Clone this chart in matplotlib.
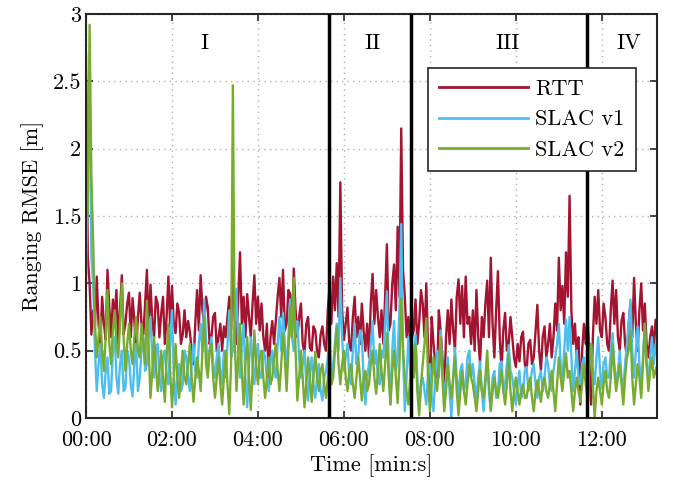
import numpy as np
import matplotlib
matplotlib.use('Agg')
import matplotlib.pyplot as plt
from matplotlib.ticker import FuncFormatter

plt.rcParams['font.family'] = 'serif'
plt.rcParams['font.serif'] = ['cmr10']
plt.rcParams['mathtext.fontset'] = 'cm'
plt.rcParams['axes.formatter.use_mathtext'] = True

# time axis [s], one sample every 2.5 s
t = np.arange(0, 800, 2.5)

rtt = [2.5, 1.2, 1.0, 0.62, 0.8, 0.68, 1.05, 0.7, 0.55, 0.9, 0.7, 0.58, 1.1, 0.82, 0.6, 0.88, 0.75, 0.95, 0.55, 0.8,
       1.06, 0.62, 0.7, 0.85, 0.93, 0.6, 0.89, 0.72, 0.5, 0.75, 0.93, 0.7, 0.62, 0.85, 1.1, 0.65, 0.99, 0.72, 0.6, 0.9,
       0.85, 0.6, 0.78, 0.9, 0.55, 0.75, 1.05, 0.68, 0.98, 0.7, 0.63, 0.85, 0.78, 0.55, 0.62, 0.8, 0.6, 0.72, 0.64, 0.5,
       0.4, 0.7, 0.95, 0.65, 1.06, 0.8, 0.7, 0.9, 0.82, 0.55, 0.6, 0.75, 0.78, 0.5, 0.6, 0.7, 0.5, 0.68, 0.6, 0.75,
       0.9, 0.65, 1.18, 0.75, 0.55, 0.9, 1.23, 0.7, 0.9, 0.6, 0.92, 0.75, 0.6, 0.85, 1.06, 0.7, 0.9, 0.65, 0.85, 0.6,
       0.5, 0.7, 0.3, 0.6, 0.72, 0.55, 0.72, 0.9, 1.04, 0.75, 1.1, 0.65, 0.7, 0.95, 0.92, 0.6, 1.11, 0.8, 0.6, 0.75,
       0.85, 0.55, 0.48, 0.7, 0.75, 0.52, 0.5, 0.68, 0.65, 0.5, 0.45, 0.62, 0.68, 0.55, 0.5, 0.8, 0.98, 0.7, 1.05, 0.8,
       1.15, 0.75, 1.75, 0.8, 0.58, 0.7, 0.82, 0.55, 0.5, 0.75, 0.9, 0.6, 0.75, 0.55, 0.85, 0.65, 0.5, 0.7, 0.45, 0.85,
       1.07, 0.7, 0.95, 0.75, 0.6, 0.8, 0.55, 0.9, 1.29, 0.65, 0.7, 1.0, 1.14, 0.8, 1.42, 0.9, 2.15, 1.1, 0.9, 0.6,
       0.75, 0.55, 0.6, 0.65, 0.88, 0.55, 0.7, 0.95, 0.85, 0.6, 1.0, 0.5, 0.12, 0.75, 0.56, 0.4, 0.3, 0.8, 0.65, 0.45,
       0.15, 0.6, 0.8, 0.55, 0.88, 0.65, 0.5, 0.9, 1.03, 0.7, 0.98, 0.6, 1.05, 0.7, 0.75, 0.55, 0.8, 0.5, 0.95, 0.6,
       0.4, 0.75, 0.6, 0.85, 1.02, 0.6, 1.19, 0.7, 0.45, 0.8, 1.09, 0.6, 0.35, 0.65, 0.78, 0.5, 0.55, 0.75, 0.6, 0.45,
       0.38, 0.55, 0.42, 0.6, 0.64, 0.4, 0.35, 0.55, 0.58, 0.4, 0.45, 0.65, 0.84, 0.5, 0.35, 0.6, 0.68, 0.45, 0.55, 0.7,
       0.45, 0.6, 0.85, 0.65, 1.19, 0.8, 0.98, 0.7, 1.23, 0.9, 1.65, 0.8, 0.55, 0.7, 0.45, 0.6, 0.1, 0.5, 0.7, 0.55,
       0.75, 0.5, 0.1, 0.6, 0.9, 0.7, 0.95, 0.65, 0.6, 0.85, 0.75, 0.55, 0.5, 0.8, 1.02, 0.7, 0.95, 0.6, 0.5, 0.72,
       0.78, 0.55, 0.45, 0.7, 0.85, 0.6, 1.04, 0.7, 0.5, 0.8, 1.0, 0.65, 0.85, 0.55, 0.45, 0.6, 0.68, 0.5, 0.73, 0.6]

slac_v1 = [1.0, 1.8, 2.57, 1.2, 1.0, 0.5, 0.2, 0.4, 0.55, 0.25, 0.15, 0.35, 0.45, 0.18, 0.2, 0.5, 0.6, 0.3, 0.18, 0.4,
           0.5, 0.2, 0.22, 0.5, 0.45, 0.25, 0.16, 0.4, 0.55, 0.2, 0.3, 0.5, 0.6, 0.35, 0.4, 0.6, 0.75, 0.45, 0.3, 0.5,
           0.55, 0.3, 0.2, 0.45, 0.5, 0.3, 0.25, 0.55, 0.8, 0.35, 0.1, 0.3, 0.4, 0.2, 0.25, 0.5, 0.45, 0.3, 0.2, 0.4,
           0.55, 0.35, 0.3, 0.55, 0.7, 0.5, 0.88, 0.6, 0.35, 0.5, 0.6, 0.4, 0.3, 0.45, 0.55, 0.35, 0.25, 0.5, 0.3, 0.55,
           0.8, 0.45, 0.5, 0.7, 0.96, 0.5, 0.3, 0.55, 0.7, 0.3, 0.08, 0.4, 0.6, 0.4, 0.25, 0.45, 0.55, 0.3, 0.3, 0.5,
           0.45, 0.3, 0.2, 0.4, 0.5, 0.35, 0.3, 0.55, 0.75, 0.5, 0.78, 0.55, 0.35, 0.6, 0.88, 0.6, 0.5, 0.65, 0.72, 0.45,
           0.3, 0.4, 0.5, 0.25, 0.13, 0.35, 0.45, 0.25, 0.15, 0.3, 0.4, 0.2, 0.13, 0.3, 0.35, 0.45, 0.58, 0.3, 0.4, 0.55,
           0.7, 0.5, 1.04, 0.6, 0.35, 0.45, 0.55, 0.3, 0.25, 0.5, 0.7, 0.4, 0.45, 0.65, 0.6, 0.3, 0.1, 0.3, 0.4, 0.55,
           0.72, 0.4, 0.5, 0.3, 0.25, 0.5, 0.45, 0.7, 0.94, 0.4, 0.1, 0.5, 0.72, 0.35, 0.45, 0.8, 1.44, 0.5, 0.05, 0.3,
           0.6, 0.35, 0.3, 0.45, 0.62, 0.3, 0.05, 0.25, 0.3, 0.2, 0.1, 0.35, 0.4, 0.15, 0.05, 0.3, 0.5, 0.3, 0.65, 0.35,
           0.1, 0.3, 0.45, 0.2, 0.0, 0.3, 0.52, 0.3, 0.15, 0.35, 0.4, 0.2, 0.25, 0.45, 0.5, 0.3, 0.4, 0.25, 0.15, 0.3,
           0.42, 0.2, 0.05, 0.25, 0.4, 0.2, 0.05, 0.3, 0.35, 0.15, 0.2, 0.4, 0.42, 0.2, 0.25, 0.4, 0.54, 0.35, 0.3, 0.2,
           0.1, 0.25, 0.35, 0.15, 0.2, 0.35, 0.38, 0.2, 0.25, 0.35, 0.4, 0.25, 0.15, 0.3, 0.35, 0.2, 0.3, 0.45, 0.4, 0.25,
           0.2, 0.35, 0.45, 0.55, 0.7, 0.4, 0.3, 0.5, 0.73, 0.5, 0.75, 0.45, 0.2, 0.35, 0.5, 0.3, 0.25, 0.4, 0.45, 0.3,
           0.2, 0.4, 0.55, 0.35, 0.25, 0.45, 0.6, 0.35, 0.22, 0.4, 0.45, 0.3, 0.3, 0.5, 0.63, 0.4, 0.25, 0.35, 0.5, 0.3,
           0.22, 0.4, 0.55, 0.7, 0.88, 0.5, 0.3, 0.5, 0.68, 0.4, 0.25, 0.45, 0.7, 0.4, 0.3, 0.45, 0.6, 0.4, 0.55, 0.45]

slac_v2 = [2.71, 1.5, 2.92, 1.8, 1.3, 0.7, 0.45, 0.6, 0.75, 0.5, 0.35, 0.6, 0.95, 0.55, 0.4, 0.65, 0.8, 0.55, 0.45, 0.7,
           1.0, 0.6, 0.35, 0.55, 0.7, 0.5, 0.4, 0.6, 0.75, 0.5, 0.45, 0.7, 0.55, 0.4, 0.87, 0.5, 0.15, 0.35, 0.6, 0.4,
           0.2, 0.35, 0.5, 0.3, 0.12, 0.45, 0.7, 0.35, 0.08, 0.3, 0.55, 0.3, 0.15, 0.35, 0.5, 0.3, 0.25, 0.4, 0.55, 0.3,
           0.12, 0.3, 0.45, 0.35, 0.2, 0.5, 0.75, 0.4, 0.3, 0.5, 0.55, 0.3, 0.15, 0.3, 0.45, 0.25, 0.1, 0.3, 0.5, 0.25,
           0.03, 0.4, 2.47, 0.6, 0.2, 0.45, 0.7, 0.35, 0.1, 0.4, 0.6, 0.3, 0.06, 0.35, 0.65, 0.4, 0.25, 0.45, 0.5, 0.3,
           0.15, 0.3, 0.45, 0.25, 0.3, 0.45, 0.55, 0.35, 0.2, 0.4, 0.63, 0.45, 0.2, 0.5, 0.83, 0.6, 1.04, 0.5, 0.13, 0.3,
           0.5, 0.3, 0.08, 0.25, 0.45, 0.3, 0.12, 0.3, 0.49, 0.3, 0.2, 0.35, 0.4, 0.25, 0.15, 0.3, 0.45, 0.25, 0.3, 0.5,
           0.68, 0.4, 0.25, 0.4, 0.5, 0.3, 0.2, 0.35, 0.4, 0.25, 0.15, 0.3, 0.45, 0.3, 0.13, 0.3, 0.35, 0.2, 0.25, 0.4,
           0.5, 0.3, 0.18, 0.35, 0.55, 0.35, 0.2, 0.4, 0.63, 0.3, 0.1, 0.35, 0.5, 0.3, 0.11, 0.4, 0.89, 0.5, 0.3, 0.2,
           0.1, 0.3, 0.45, 0.3, 0.55, 0.2, 0.02, 0.25, 0.4, 0.55, 0.74, 0.3, 0.05, 0.25, 0.45, 0.3, 0.2, 0.35, 0.6, 0.3,
           0.05, 0.2, 0.4, 0.25, 0.15, 0.3, 0.45, 0.2, 0.02, 0.2, 0.35, 0.2, 0.1, 0.25, 0.4, 0.3, 0.25, 0.15, 0.05, 0.2,
           0.35, 0.2, 0.15, 0.3, 0.5, 0.25, 0.06, 0.2, 0.3, 0.2, 0.15, 0.25, 0.35, 0.2, 0.1, 0.25, 0.47, 0.2, 0.05, 0.2,
           0.3, 0.2, 0.1, 0.2, 0.25, 0.15, 0.15, 0.25, 0.3, 0.15, 0.05, 0.2, 0.28, 0.2, 0.12, 0.25, 0.3, 0.2, 0.15, 0.25,
           0.35, 0.2, 0.05, 0.25, 0.45, 0.3, 0.2, 0.35, 0.48, 0.3, 0.35, 0.2, 0.05, 0.2, 0.3, 0.2, 0.12, 0.25, 0.4, 0.25,
           0.15, 0.35, 0.55, 0.25, 0.0, 0.2, 0.3, 0.2, 0.1, 0.25, 0.35, 0.2, 0.15, 0.3, 0.55, 0.35, 0.2, 0.3, 0.4, 0.25,
           0.1, 0.3, 0.45, 0.5, 0.65, 0.3, 0.1, 0.25, 0.4, 0.3, 0.15, 0.4, 0.7, 0.4, 0.2, 0.35, 0.45, 0.3, 0.35, 0.4]

# phase boundaries [s] and phase names
borders = [339, 453, 700]
phase_names = ['I', 'II', 'III', 'IV']
phase_pos = [166, 400, 589, 758]

fig = plt.figure(figsize=(6.73, 4.91), dpi=100)
ax = fig.add_axes([0.1278, 0.1487, 0.8484, 0.8228])

ax.plot(t, rtt, color='#A2142F', lw=1.7, label='RTT')
ax.plot(t, slac_v1, color='#4DBEEE', lw=1.7, label='SLAC v1')
ax.plot(t, slac_v2, color='#77AC30', lw=1.7, label='SLAC v2')

for b in borders:
    ax.axvline(b, color='black', lw=2.5, zorder=5)
for name, p in zip(phase_names, phase_pos):
    ax.text(p, 2.78, name, ha='center', va='center', fontsize=16)

ax.set_xlim(0, 797)
ax.set_ylim(0, 3)
ax.set_xticks(np.arange(0, 797, 120))
ax.xaxis.set_major_formatter(FuncFormatter(lambda v, p: '%02d:%02d' % (v // 60, v % 60)))
ax.set_yticks(np.arange(0, 3.01, 0.5))
ax.yaxis.set_major_formatter(FuncFormatter(lambda v, p: '%g' % v))
ax.tick_params(direction='in', top=True, right=True, labelsize=16, width=1.2, length=5, color='#262626')
ax.tick_params(axis='x', pad=9)
for s in ax.spines.values():
    s.set_linewidth(1.5)
    s.set_color('#262626')
ax.grid(True, color='#b0b0b0', linestyle=(0, (1, 3)), lw=1.0)

ax.set_xlabel('Time [min:s]', fontsize=16, labelpad=3)
ax.set_ylabel('Ranging RMSE [m]', fontsize=16, labelpad=6)

leg = ax.legend(loc='upper right', bbox_to_anchor=(0.963, 0.866), borderaxespad=0,
                fontsize=16, fancybox=False, edgecolor='#262626', framealpha=1,
                handlelength=4.0, labelspacing=0.5, borderpad=0.5, handletextpad=0.35)
leg.get_frame().set_linewidth(1.2)
for line in leg.get_lines():
    line.set_linewidth(2)

fig.savefig('out.png', dpi=100)
